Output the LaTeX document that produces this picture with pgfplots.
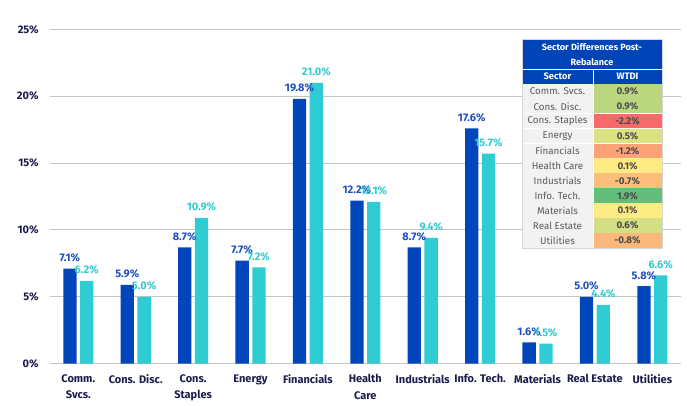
\documentclass[border=0pt]{standalone}
\usepackage{fontspec}
\setmainfont{Fira Sans}
\usepackage{pgfplots}
\pgfplotsset{compat=1.18}
\definecolor{postc}{HTML}{0046BA}
\definecolor{prec}{HTML}{2FCCD3}
\definecolor{postl}{HTML}{1F50C0}
\definecolor{prel}{HTML}{33CAD2}
\definecolor{navy}{HTML}{1C1C4C}
\definecolor{gridc}{HTML}{C4C4C4}
\definecolor{hdr}{HTML}{0044B8}
\definecolor{cellg}{HTML}{F2F2F2}
\definecolor{txtg}{HTML}{5A5A5A}
\definecolor{valg}{HTML}{4A4A4A}
\definecolor{cA}{HTML}{BAD780}
\definecolor{cB}{HTML}{F8696B}
\definecolor{cC}{HTML}{DCE182}
\definecolor{cD}{HTML}{FBA276}
\definecolor{cE}{HTML}{FFEB84}
\definecolor{cF}{HTML}{FDBE7B}
\definecolor{cG}{HTML}{63BE7B}
\definecolor{cH}{HTML}{D4DE82}
\definecolor{cI}{HTML}{FCB87A}
\pgfplotstableread{
x post pre
0 7.1 6.2
1 5.9 5.0
2 8.7 10.9
3 7.7 7.2
4 19.8 21.0
5 12.2 12.1
6 8.7 9.4
7 17.6 15.7
8 1.6 1.5
9 5.0 4.4
10 5.8 6.6
}\datatable
\begin{document}
\begin{tikzpicture}[x=1pt,y=1pt]
\path[use as bounding box] (0,-406) rectangle (687,0);
\begin{axis}[
  at={(49.6pt,-363.7pt)}, anchor=south west,
  scale only axis, width=631.4pt, height=334.4pt,
  xmin=-0.5, xmax=10.5, ymin=0, ymax=25,
  /pgf/number format/assume math mode=true,
  axis x line*=bottom, axis y line*=left,
  x axis line style={gridc, line width=1pt, -},
  y axis line style={draw=none},
  major tick length=0pt,
  ytick={0,5,10,15,20,25},
  yticklabel={\pgfmathprintnumber{\tick}\%},
  yticklabel style={font=\bfseries\fontsize{11}{12}\selectfont, text=navy, xshift=-7.5pt},
  ymajorgrids, grid style={gridc, line width=1pt},
  xtick={0,...,10},
  xticklabels={{Comm.\\Svcs.},{Cons. Disc.},{Cons.\\Staples},{Energy},{Financials},{Health\\Care},{Industrials},{Info. Tech.},{Materials},{Real Estate},{Utilities}},
  xticklabel style={font=\bfseries\fontsize{11}{16.7}\selectfont, text=navy, align=center, anchor=north, yshift=-10.5pt, inner sep=0pt},
  ybar, bar width=13.3pt,
  nodes near coords={\pgfmathprintnumber[fixed,fixed zerofill,precision=1]{\pgfplotspointmeta}\%},
  every node near coord/.append style={font=\bfseries\fontsize{11}{12}\selectfont, anchor=base, yshift=7pt, inner sep=0pt},
  legend columns=2,
  legend style={draw=none, fill=none, at={(262pt,-48pt)}, anchor=west, inner sep=0pt,
    font=\bfseries\fontsize{11}{12}\selectfont, text=navy,
    /tikz/every even column/.append style={column sep=13pt}},
  legend cell align=left,
  legend image code/.code={\fill[#1] (0pt,-4pt) rectangle (8pt,4pt);},
  clip=false,
]
\addplot[fill=postc, draw=none, bar shift=-8.4pt, every node near coord/.append style={text=postl}] table[x=x, y=post] {\datatable};
\addlegendentry{Post-Rebalance}
\addplot[fill=prec, draw=none, bar shift=8.4pt, every node near coord/.append style={text=prel}] table[x=x, y=pre] {\datatable};
\addlegendentry{Pre-Rebalance}
\end{axis}
% table
\fill[hdr] (522,-39) rectangle (662,-84);
\draw[white, line width=0.8pt] (522,-69) -- (662,-69);
\draw[white, line width=0.8pt] (593,-69) -- (593,-84);
\node[text=white, font=\bfseries\fontsize{9.1}{15.5}\selectfont, align=center] at (592,-54.5) {Sector Differences Post-\\Rebalance};
\node[text=white, font=\bfseries\fontsize{9.4}{10}\selectfont] at (557.5,-76.5) {Sector};
\node[text=white, font=\bfseries\fontsize{9.4}{10}\selectfont] at (627.5,-76.5) {WTDI};
\foreach \nm/\vl/\cl [count=\i from 0] in {Comm. Svcs./0.9/cA, Cons. Disc./0.9/cA, Cons. Staples/-2.2/cB, Energy/0.5/cC, Financials/-1.2/cD, Health Care/0.1/cE, Industrials/-0.7/cF, Info. Tech./1.9/cG, Materials/0.1/cE, Real Estate/0.6/cH, Utilities/-0.8/cI}{
  \pgfmathsetmacro{\yt}{-84-14.9*\i}
  \pgfmathsetmacro{\yb}{\yt-14.9}
  \pgfmathsetmacro{\ym}{\yt-7.45}
  \fill[cellg] (522,\yt) rectangle (593,\yb);
  \fill[\cl] (593,\yt) rectangle (662,\yb);
  \draw[white, line width=0.6pt] (522,\yb) -- (662,\yb);
  \node[text=txtg, font=\fontsize{9.8}{10}\selectfont, inner sep=0pt] at (557.5,\ym) {\nm};
  \node[text=valg, font=\bfseries\fontsize{9.8}{10}\selectfont, inner sep=0pt] at (627.5,\ym) {\vl\%};
}
\draw[white, line width=0.6pt] (593,-84) -- (593,-247.9);
\draw[gridc!70, line width=0.5pt] (522,-39) rectangle (662,-247.9);
\end{tikzpicture}
\end{document}
